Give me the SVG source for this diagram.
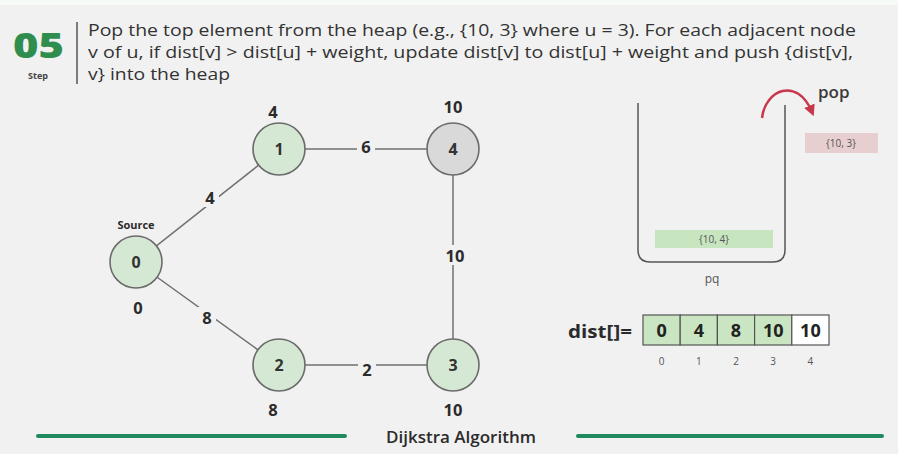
<svg xmlns="http://www.w3.org/2000/svg" width="898" height="454" viewBox="0 0 898 454">
  <style>
    .bg { fill: #f1f1f1; }
    .hdr { font-family: "Open Sans", "Noto Sans", sans-serif; font-size: 16.5px; fill: #333; }
    .node circle { fill: #d5e8d4; stroke: #6b6b6b; stroke-width: 1.6; }
    .node.gray circle { fill: #d9d9d9; }
    .node .n { font-family: "Open Sans", sans-serif; font-weight: bold; font-size: 16px; fill: #333; text-anchor: middle; dominant-baseline: central; }
    .lbl { font-family: "Open Sans", sans-serif; font-weight: bold; font-size: 16.5px; fill: #2b2b2b; text-anchor: middle; }
    .src { font-size: 11px; }
    .edge { stroke: #6f6f6f; stroke-width: 1.5; fill: none; }
    .wt { font-family: "Open Sans", sans-serif; font-weight: bold; font-size: 16.5px; fill: #2b2b2b; text-anchor: middle; dominant-baseline: central; }
    .wtbg { fill: #f1f1f1; }
    .small { font-family: "Open Sans", sans-serif; font-size: 10px; fill: #555; text-anchor: middle; }
    .cell { stroke: #555; stroke-width: 1.2; }
    .cellv { font-family: "Open Sans", sans-serif; font-weight: bold; font-size: 18px; fill: #222; text-anchor: middle; }
    .rule { stroke: #1f8a5e; stroke-width: 4; stroke-linecap: round; }
  </style>
  <defs>
    <marker id="popHead" viewBox="0 0 10 10" refX="6" refY="5" markerWidth="4.5" markerHeight="4.5" orient="auto">
      <path d="M0,0 L10,5 L0,10 z" fill="#c8374b"/>
    </marker>
  </defs>

  <rect class="bg" x="0" y="0" width="898" height="454"/>
  <rect x="0" y="0" width="898" height="5" fill="#f7fbf8"/>

  <!-- Step header -->
  <g id="header">
    <text x="13" y="58" font-family="Open Sans, sans-serif" font-weight="800" font-size="35" fill="#2f8d4e" textLength="51" lengthAdjust="spacingAndGlyphs">05</text>
    <text x="38" y="79" font-family="Open Sans, sans-serif" font-weight="bold" font-size="9" fill="#444" text-anchor="middle">Step</text>
    <line x1="77" y1="22" x2="77" y2="84" stroke="#555" stroke-width="1.5"/>
    <text class="hdr" x="88" y="36" textLength="768" lengthAdjust="spacingAndGlyphs">Pop the top element from the heap (e.g., {10, 3} where u = 3). For each adjacent node</text>
    <text class="hdr" x="88" y="58" textLength="765" lengthAdjust="spacingAndGlyphs">v of u, if dist[v] &gt; dist[u] + weight, update dist[v] to dist[u] + weight and push {dist[v],</text>
    <text class="hdr" x="88" y="80" textLength="142" lengthAdjust="spacingAndGlyphs">v} into the heap</text>
  </g>

  <!-- Edges with weight labels -->
  <g id="edges">
    <line class="edge" x1="136" y1="262" x2="279" y2="149"/>
    <line class="edge" x1="279" y1="149" x2="453" y2="149"/>
    <line class="edge" x1="453" y1="149" x2="453" y2="365"/>
    <line class="edge" x1="136" y1="262" x2="279" y2="365"/>
    <line class="edge" x1="279" y1="365" x2="453" y2="365"/>
    <rect class="wtbg" x="201" y="187" width="18" height="20"/>
    <text class="wt" x="210" y="197">4</text>
    <rect class="wtbg" x="357" y="139" width="18" height="20"/>
    <text class="wt" x="366" y="146">6</text>
    <rect class="wtbg" x="441" y="245" width="28" height="20"/>
    <text class="wt" x="455" y="255">10</text>
    <rect class="wtbg" x="198" y="307" width="18" height="20"/>
    <text class="wt" x="207" y="317">8</text>
    <rect class="wtbg" x="358" y="359" width="18" height="20"/>
    <text class="wt" x="367" y="369">2</text>
  </g>

  <!-- Graph nodes -->
  <g id="node-0" class="node">
    <circle cx="136" cy="262" r="26"/>
    <text class="n" x="136" y="262">0</text>
    <text class="lbl src" x="136" y="229">Source</text>
    <text class="lbl" x="138" y="314">0</text>
  </g>
  <g id="node-1" class="node">
    <circle cx="279" cy="149" r="26"/>
    <text class="n" x="279" y="149">1</text>
    <text class="lbl" x="273" y="118">4</text>
  </g>
  <g id="node-4" class="node gray">
    <circle cx="453" cy="149" r="26"/>
    <text class="n" x="453" y="149">4</text>
    <text class="lbl" x="453" y="113">10</text>
  </g>
  <g id="node-2" class="node">
    <circle cx="279" cy="365" r="26"/>
    <text class="n" x="279" y="365">2</text>
    <text class="lbl" x="273" y="416">8</text>
  </g>
  <g id="node-3" class="node">
    <circle cx="453" cy="365" r="26"/>
    <text class="n" x="453" y="365">3</text>
    <text class="lbl" x="453" y="416">10</text>
  </g>

  <!-- Priority queue -->
  <g id="pq">
    <path d="M638,103 V250 Q638,262 650,262 H773 Q785,262 785,250 V105" fill="none" stroke="#555" stroke-width="1.5"/>
    <rect x="655" y="230" width="118" height="18" fill="#c7e6c0"/>
    <text class="small" x="714" y="243">{10, 4}</text>
    <text x="712" y="283" font-family="Open Sans, sans-serif" font-size="12" fill="#555" text-anchor="middle">pq</text>
  </g>

  <!-- Popped entry -->
  <g id="popped">
    <path d="M762,118 C765,90 797,76 812,112" fill="none" stroke="#c8374b" stroke-width="2.5" marker-end="url(#popHead)"/>
    <text x="818" y="98" font-family="Open Sans, sans-serif" font-weight="600" font-size="17" fill="#3a3a3a">pop</text>
    <rect x="805" y="133" width="73" height="20" fill="#e8cfcf"/>
    <text class="small" x="841" y="147">{10, 3}</text>
  </g>

  <!-- Distance array -->
  <g id="dist">
    <text x="568" y="338" font-family="Open Sans, sans-serif" font-weight="bold" font-size="18" fill="#2b2b2b" textLength="64" lengthAdjust="spacingAndGlyphs">dist[]=</text>
    <rect class="cell" x="643" y="315" width="37.2" height="30" fill="#c9e5c1"/>
    <rect class="cell" x="680.2" y="315" width="37.2" height="30" fill="#c9e5c1"/>
    <rect class="cell" x="717.4" y="315" width="37.2" height="30" fill="#c9e5c1"/>
    <rect class="cell" x="754.6" y="315" width="37.2" height="30" fill="#c9e5c1"/>
    <rect class="cell" x="791.8" y="315" width="37.2" height="30" fill="#ffffff"/>
    <text class="cellv" x="661.6" y="337">0</text>
    <text class="cellv" x="698.8" y="337">4</text>
    <text class="cellv" x="736" y="337">8</text>
    <text class="cellv" x="773.2" y="337">10</text>
    <text class="cellv" x="810.4" y="337">10</text>
    <text class="small" x="661.6" y="365">0</text>
    <text class="small" x="698.8" y="365">1</text>
    <text class="small" x="736" y="365">2</text>
    <text class="small" x="773.2" y="365">3</text>
    <text class="small" x="810.4" y="365">4</text>
  </g>

  <!-- Footer -->
  <g id="footer">
    <line class="rule" x1="38" y1="436" x2="345" y2="436"/>
    <line class="rule" x1="578" y1="436" x2="882" y2="436"/>
    <text x="461" y="443" font-family="Open Sans, sans-serif" font-weight="600" font-size="17" fill="#2b2b2b" text-anchor="middle">Dijkstra Algorithm</text>
  </g>
</svg>
